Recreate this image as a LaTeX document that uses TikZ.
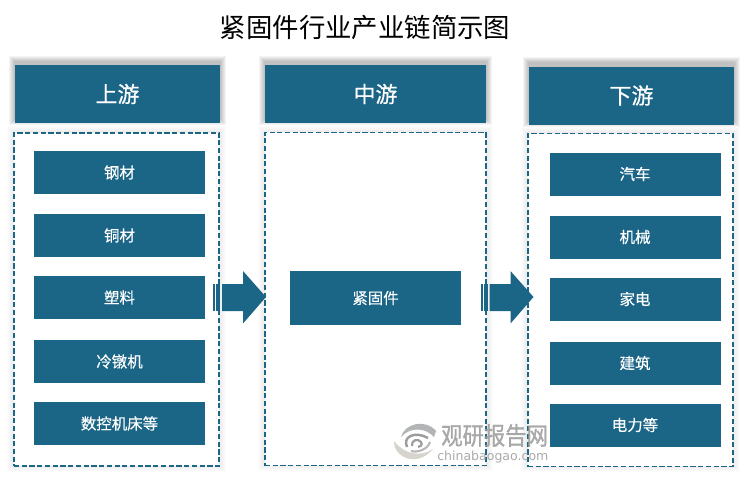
\documentclass[tikz,border=0pt]{standalone}
\usepackage{fontspec}
\setmainfont{Noto Sans CJK SC}
\newfontfamily\wmlatin{DejaVu Sans}
\newfontfamily\itemfont[FakeBold=0.3]{Noto Sans CJK SC}
\newfontfamily\headfont[FakeBold=0.6]{Noto Sans CJK SC}
\newfontfamily\wmfont[FakeBold=1.2]{Noto Sans CJK SC}
\usetikzlibrary{calc}
\pgfdeclarelayer{bg}
\pgfsetlayers{bg,main}
\definecolor{teal1}{HTML}{1B6587}
\definecolor{wm}{HTML}{9C9C9C}
\definecolor{wmlight}{HTML}{D6D4CC}
\definecolor{wmdark}{HTML}{B2B5B5}
\newcommand{\softshadow}[3]{% node, opacity, bottom inset
  \foreach \i in {1,...,6}{
    \fill[black,opacity=#2] ($(#1.north west)+(-\i,-#3-\i)$) rectangle ($(#1.south east)+(\i,\i-#3-1)$);
  }}
\tikzset{
  px/.style={x=0.75pt,y=-0.75pt},
  header/.style={fill=teal1,text=white,font=\headfont\fontsize{16.5pt}{18pt}\selectfont,inner sep=0pt,minimum height=43.5pt},
  headerL/.style={header,minimum width=153.75pt},
  headerM/.style={header,minimum width=165.75pt},
  headerR/.style={header,minimum width=153.75pt},
  dashbox/.style={draw=teal1,line width=1.05pt,dash pattern=on 3.9pt off 1.9pt,fill=white,inner sep=0pt,minimum height=250pt},
  itembox/.style={fill=teal1,text=white,font=\itemfont\fontsize{11.6pt}{14pt}\selectfont,inner sep=0pt,minimum width=128.25pt,minimum height=32.25pt},
  midbox/.style={fill=teal1,text=white,font=\itemfont\fontsize{11.6pt}{14pt}\selectfont,inner sep=0pt,minimum width=128.25pt,minimum height=40.5pt},
  bigarrow/.style={fill=teal1,draw=none},
  tailbar/.style={fill=teal1,draw=none},
  wmtext/.style={text=wm,text opacity=0.85,inner sep=0pt}
}
\begin{document}
\begin{tikzpicture}[px]
\useasboundingbox (0,0) rectangle (750,483);
\begin{pgfonlayer}{bg}
\fill[white] (0,0) rectangle (750,483);
\end{pgfonlayer}
\node[inner sep=0pt,font=\fontsize{19.8pt}{22pt}\selectfont] (title) at (365,28) {紧固件行业产业链简示图};
% headers
\node[headerL] (hL) at (117.5,94) {上游};
\node[headerM] (hM) at (375.5,94) {中游};
\node[headerR] (hR) at (631.5,95.5) {下游};
% dashed panels
\node[dashbox,minimum width=153.75pt] (pL) at (116.5,299.5) {};
\node[dashbox,minimum width=165.75pt] (pM) at (375.5,299) {};
\node[dashbox,minimum width=153.75pt] (pR) at (630.5,300) {};
\begin{pgfonlayer}{bg}
\softshadow{hL}{0.045}{3}
\softshadow{hM}{0.045}{3}
\softshadow{hR}{0.045}{3}
\softshadow{pL}{0.01}{0}
\softshadow{pM}{0.01}{0}
\softshadow{pR}{0.01}{0}
\end{pgfonlayer}
% left items
\node[itembox] (a1) at (119.5,172.5) {钢材};
\node[itembox] (a2) at (119.5,235.5) {铜材};
\node[itembox] (a3) at (119.5,297.5) {塑料};
\node[itembox] (a4) at (119.5,361.5) {冷镦机};
\node[itembox] (a5) at (119.5,423.5) {数控机床等};
% middle
\node[midbox] (m) at (375.5,298) {紧固件};
% right items
\node[itembox] (b1) at (635,174) {汽车};
\node[itembox] (b2) at (635,237) {机械};
\node[itembox] (b3) at (635,299) {家电};
\node[itembox] (b4) at (635,363) {建筑};
\node[itembox] (b5) at (635,425) {电力等};
% block arrows
\coordinate (tipA) at (266,297);
\coordinate (tipB) at (533.5,297);
\foreach \t in {tipA,tipB}{
  \fill[bigarrow] (\t) -- ++(-23,-26) -- ++(0,13) -- ++(-21,0) -- ++(0,27) -- ++(21,0) -- ++(0,12.5) -- cycle;
  \fill[tailbar] ($(\t)+(-53,-13)$) rectangle ($(\t)+(-50.6,14)$);
  \fill[tailbar] ($(\t)+(-49.6,-13)$) rectangle ($(\t)+(-46,14)$);
}
% watermark
\node[wmtext,font=\wmfont\fontsize{16pt}{20pt}\selectfont,anchor=west] (wm1) at (441,435.5) {\scalebox{1}[1.15]{观研报告网}};
\node[wmtext,font=\wmlatin\fontsize{9.4pt}{11pt}\selectfont,anchor=west] (wm2) at (437,457) {chinabaogao.com};
\fill[wmdark] (401,437) .. controls (404,424) and (425,418) .. (436,431) -- (434,437) .. controls (425,427) and (410,427) .. (401,437) -- cycle;
\fill[wmlight] (394,441) .. controls (393,456) and (416,469) .. (433,449) .. controls (421,457) and (405,455) .. (394,441) -- cycle;
\draw[wm,line width=1.8pt] (407,447) .. controls (402,436) and (416,431) .. (428,438);
\draw[wm!70,line width=1.6pt] (411,451) .. controls (418,453) and (428,449) .. (430,442);
\draw[wm,line width=1.6pt] (412,446) .. controls (411,440) and (418,438) .. (421,442) .. controls (423,445) and (420,447) .. (418,447);
\end{tikzpicture}
\end{document}
